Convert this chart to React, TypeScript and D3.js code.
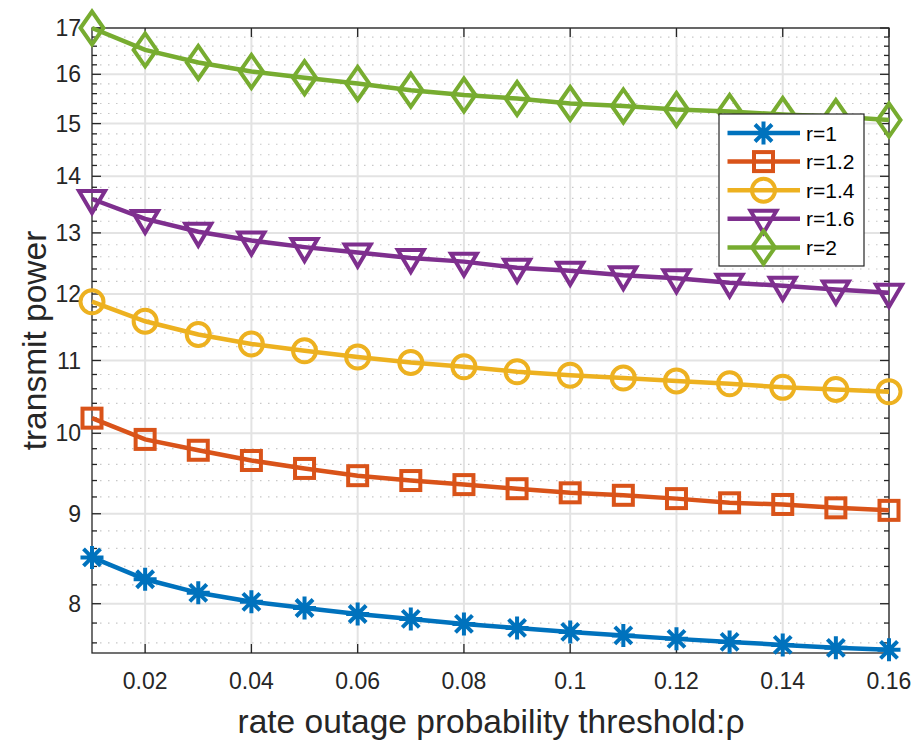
import React from 'react';
import * as d3 from 'd3';

const width = 915;
const height = 740;
const margin = {top: 28, right: 26, bottom: 87, left: 92};
const axisColor = '#262626';

// rate outage probability threshold
const rho = [0.01, 0.02, 0.03, 0.04, 0.05, 0.06, 0.07, 0.08, 0.09, 0.1, 0.11, 0.12, 0.13, 0.14, 0.15, 0.16];
const r1 = [8.5, 8.26, 8.115, 8.02, 7.955, 7.893, 7.842, 7.791, 7.75, 7.71, 7.675, 7.64, 7.61, 7.58, 7.551, 7.531];
const r12 = [10.2, 9.92, 9.78, 9.65, 9.55, 9.46, 9.4, 9.35, 9.3, 9.25, 9.22, 9.18, 9.13, 9.11, 9.07, 9.04];
const r14 = [11.88, 11.58, 11.38, 11.24, 11.14, 11.05, 10.97, 10.91, 10.84, 10.79, 10.75, 10.71, 10.67, 10.62, 10.59, 10.56];
const r16 = [13.59, 13.24, 13.02, 12.87, 12.76, 12.67, 12.58, 12.52, 12.42, 12.37, 12.3, 12.25, 12.18, 12.13, 12.07, 12.02];
const r2 = [17.0, 16.52, 16.25, 16.06, 15.93, 15.81, 15.67, 15.57, 15.5, 15.4, 15.35, 15.28, 15.24, 15.18, 15.14, 15.07];

const seriesNames = ['r=1', 'r=1.2', 'r=1.4', 'r=1.6', 'r=2'];
const seriesValues = [r1, r12, r14, r16, r2];
const seriesColors = ['#0072BD', '#D95319', '#EDB120', '#7E2F8E', '#77AC30'];
const seriesMarkers = ['asterisk', 'square', 'circle', 'triangleDown', 'diamond'];

const xTicks = [0.02, 0.04, 0.06, 0.08, 0.1, 0.12, 0.14, 0.16];
const yTicks = [8, 9, 10, 11, 12, 13, 14, 15, 16, 17];
const yMinor = d3.range(38, 86).map(i => i / 5).filter(v => Math.abs(v - Math.round(v)) > 0.01);

const xScale = d3.scaleLinear().domain([0.01, 0.16]).range([margin.left, width - margin.right]);
const yScale = d3.scaleLog().domain([7.5, 17]).range([height - margin.bottom, margin.top]);

function Marker({kind, x, y, color}: {kind: string, x: number, y: number, color: string}) {
    const sw = 4;
    if (kind === 'circle') {
        return <circle cx={x} cy={y} r={11.5} fill='none' stroke={color} strokeWidth={sw}/>;
    }
    if (kind === 'square') {
        return <rect x={x - 9.5} y={y - 9.5} width={19} height={19} fill='none' stroke={color} strokeWidth={sw}/>;
    }
    if (kind === 'diamond') {
        return <path d={`M${x - 11.5},${y}L${x},${y - 16.5}L${x + 11.5},${y}L${x},${y + 16.5}Z`} fill='none' stroke={color} strokeWidth={sw}/>;
    }
    if (kind === 'triangleDown') {
        return <path d={`M${x - 13},${y - 8}L${x + 13},${y - 8}L${x},${y + 14}Z`} fill='none' stroke={color} strokeWidth={sw} strokeLinejoin='miter'/>;
    }
    // asterisk: plus and cross
    const a = 11.5, b = 8.5;
    return (
        <path d={`M${x - a},${y}H${x + a}M${x},${y - a}V${y + a}M${x - b},${y - b}L${x + b},${y + b}M${x - b},${y + b}L${x + b},${y - b}`}
              stroke={color} strokeWidth={sw} fill='none'/>
    );
}

export default function App() {
    const lineGenerator = d3.line<number>()
        .x((d, i) => xScale(rho[i]))
        .y(d => yScale(d));

    const left = margin.left, right = width - margin.right;
    const top = margin.top, bottom = height - margin.bottom;

    const legendX = 719, legendY = 114, legendW = 145, legendH = 152;
    const rowH = 28.6;

    return (
        <svg width={width} height={height} style={{position: 'absolute', left: 0, top: 0}}
             fontFamily='"Liberation Sans", Arial, Helvetica, sans-serif'>
            <rect width={width} height={height} fill='#ffffff'/>
            {/* minor grid */}
            {yMinor.map(v => (
                <line key={'m' + v} x1={left} x2={right} y1={yScale(v)} y2={yScale(v)}
                      stroke='#c8c8c8' strokeWidth={1.2} strokeDasharray='1.5 6.5'/>
            ))}
            {/* major grid */}
            {yTicks.map(v => (
                <line key={'g' + v} x1={left} x2={right} y1={yScale(v)} y2={yScale(v)} stroke='#e3e3e3' strokeWidth={2}/>
            ))}
            {xTicks.map(v => (
                <line key={'gx' + v} x1={xScale(v)} x2={xScale(v)} y1={top} y2={bottom} stroke='#e3e3e3' strokeWidth={2}/>
            ))}
            {/* ticks */}
            {yMinor.map(v => (
                <g key={'mt' + v} stroke={axisColor} strokeWidth={1.3}>
                    <line x1={left} x2={left + 5} y1={yScale(v)} y2={yScale(v)}/>
                    <line x1={right} x2={right - 5} y1={yScale(v)} y2={yScale(v)}/>
                </g>
            ))}
            {yTicks.map(v => (
                <g key={'t' + v}>
                    <line x1={left} x2={left + 9} y1={yScale(v)} y2={yScale(v)} stroke={axisColor} strokeWidth={1.3}/>
                    <line x1={right} x2={right - 9} y1={yScale(v)} y2={yScale(v)} stroke={axisColor} strokeWidth={1.3}/>
                    <text x={left - 11} y={yScale(v)} dy='0.35em' textAnchor='end' fontSize={23} fill={axisColor}>{v}</text>
                </g>
            ))}
            {xTicks.map(v => (
                <g key={'tx' + v}>
                    <line x1={xScale(v)} x2={xScale(v)} y1={bottom} y2={bottom - 9} stroke={axisColor} strokeWidth={1.3}/>
                    <line x1={xScale(v)} x2={xScale(v)} y1={top} y2={top + 9} stroke={axisColor} strokeWidth={1.3}/>
                    <text x={xScale(v)} y={689} textAnchor='middle' fontSize={23} fill={axisColor}>{v}</text>
                </g>
            ))}
            <rect x={left} y={top} width={right - left} height={bottom - top} fill='none' stroke={axisColor} strokeWidth={1.3}/>
            {/* series */}
            {seriesValues.map((vals, s) => (
                <g key={'s' + s}>
                    <path d={lineGenerator(vals) || ''} fill='none' stroke={seriesColors[s]} strokeWidth={4.5}/>
                    {vals.map((v, i) => (
                        <Marker key={i} kind={seriesMarkers[s]} x={xScale(rho[i])} y={yScale(v)} color={seriesColors[s]}/>
                    ))}
                </g>
            ))}
            {/* legend */}
            <rect x={legendX} y={legendY} width={legendW} height={legendH} fill='#ffffff' stroke={axisColor} strokeWidth={1.2}/>
            {seriesNames.map((name, s) => {
                const cy = legendY + 19 + s * rowH;
                return (
                    <g key={'l' + s}>
                        <line x1={727.5} x2={800} y1={cy} y2={cy} stroke={seriesColors[s]} strokeWidth={4.5}/>
                        <Marker kind={seriesMarkers[s]} x={763.5} y={cy} color={seriesColors[s]}/>
                        <text x={806} y={cy} dy='0.36em' fontSize={21} fill='#000000'>{name}</text>
                    </g>
                );
            })}
            {/* axis labels */}
            <text x={491} y={733} textAnchor='middle' fontSize={33.5} fill={axisColor}>rate outage probability threshold:ρ</text>
            <text transform={`translate(46, ${(top + bottom) / 2}) rotate(-90)`} textAnchor='middle' fontSize={33.5} fill={axisColor}>transmit power</text>
        </svg>
    );
}
